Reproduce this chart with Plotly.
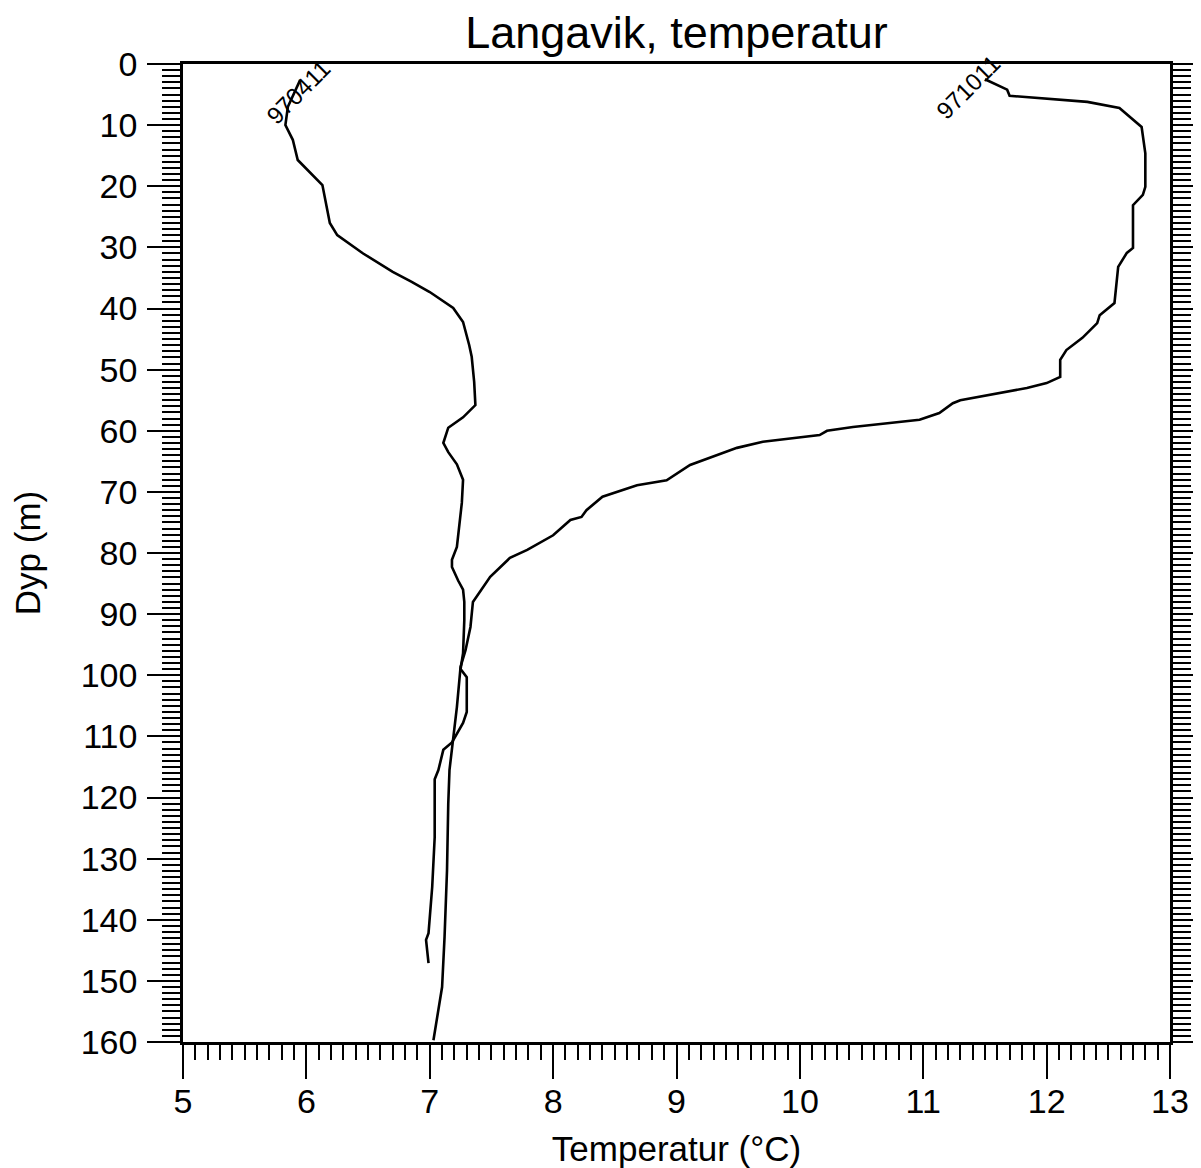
import plotly.graph_objects as go

# Profile 970411
depth_970411 = [2.6, 5.5, 7.0, 10.0, 12.4, 15.7, 19.8, 26.0, 28.0, 31.0, 34.0, 35.6, 37.3,
                39.9, 42.2, 46.0, 47.9, 52.0, 55.8, 57.8, 59.5, 62.0, 63.5, 65.5, 68.0,
                71.8, 75.0, 79.0, 81.1, 82.3, 84.5, 86.0, 88.0, 91.0, 96.4, 99.0, 100.3,
                106.0, 107.8, 111.0, 112.2, 115.5, 117.0, 126.5, 134.6, 142.2, 143.3, 147.1]
temp_970411 = [5.95, 5.88, 5.85, 5.83, 5.89, 5.93, 6.13, 6.19, 6.25, 6.46, 6.70, 6.85, 7.00,
               7.19, 7.27, 7.32, 7.34, 7.36, 7.37, 7.27, 7.15, 7.11, 7.15, 7.22, 7.27,
               7.26, 7.24, 7.22, 7.18, 7.18, 7.23, 7.27, 7.28, 7.28, 7.27, 7.25, 7.30,
               7.30, 7.27, 7.18, 7.11, 7.07, 7.04, 7.04, 7.02, 6.99, 6.97, 6.99]

# Profile 971011
depth_971011 = [2.5, 4.2, 5.2, 6.2, 7.2, 10.3, 14.6, 20.1, 21.4, 23.1, 30.1, 30.9, 33.2,
                39.1, 41.1, 42.4, 44.8, 46.8, 48.4, 51.2, 52.2, 53.0, 55.0, 55.5, 57.1,
                58.2, 59.4, 60.0, 60.7, 61.8, 62.8, 65.6, 68.1, 68.9, 70.8, 73.0, 74.1,
                74.6, 77.1, 79.5, 80.8, 83.9, 88.0, 92.1, 95.9, 98.6, 105.2, 110.0,
                115.5, 121.0, 131.9, 142.8, 151.0, 159.7]
temp_971011 = [11.50, 11.68, 11.70, 12.33, 12.59, 12.77, 12.80, 12.80, 12.78, 12.70, 12.70, 12.65, 12.58,
               12.55, 12.43, 12.41, 12.29, 12.16, 12.11, 12.11, 12.00, 11.84, 11.30, 11.24, 11.13,
               10.97, 10.43, 10.22, 10.16, 9.70, 9.49, 9.11, 8.92, 8.68, 8.40, 8.27, 8.23,
               8.14, 8.00, 7.79, 7.65, 7.49, 7.35, 7.33, 7.29, 7.25, 7.22, 7.19,
               7.16, 7.15, 7.14, 7.12, 7.10, 7.03]

labels = ["970411", "971011"]
label_temp = [5.93, 11.36]
label_depth = [4.6, 3.8]

x_ticks = [5, 6, 7, 8, 9, 10, 11, 12, 13]
y_ticks = list(range(0, 161, 10))

FONT = "Liberation Sans, Arial, Helvetica, sans-serif"
W, H = 1193, 1160

fig = go.Figure()
for t, d, name in [(temp_970411, depth_970411, labels[0]), (temp_971011, depth_971011, labels[1])]:
    fig.add_trace(go.Scatter(x=t, y=d, mode="lines", name=name,
                             line=dict(color="black", width=2.6), showlegend=False))

for name, lt, ld in zip(labels, label_temp, label_depth):
    fig.add_annotation(x=lt, y=ld, text=name, showarrow=False, textangle=-45,
                       font=dict(family=FONT, size=24, color="black"),
                       xanchor="center", yanchor="middle")

fig.update_layout(
    width=W, height=H,
    margin=dict(l=175, r=31, t=56, b=126, autoexpand=False),
    paper_bgcolor="white", plot_bgcolor="white",
    font=dict(family=FONT, color="black"),
    title=dict(text="Langavik, temperatur", x=0.5, xref="paper", xanchor="center",
               y=1 - 24 / H, yref="container", yanchor="middle",
               font=dict(family=FONT, size=45, color="black")),
)

fig.update_xaxes(
    range=[5, 13], tickvals=x_ticks, ticktext=[str(v) for v in x_ticks],
    ticks="outside", ticklen=34, tickwidth=2, tickcolor="black",
    minor=dict(dtick=0.1, tick0=5, ticks="outside", ticklen=15, tickwidth=2, tickcolor="black", showgrid=False),
    showline=True, linewidth=2.5, linecolor="black", mirror=True,
    showgrid=False, zeroline=False, automargin=False,
    ticklabelstandoff=-7,
    tickfont=dict(family=FONT, size=34, color="black"),
    title=dict(text="Temperatur (°C)", font=dict(family=FONT, size=35, color="black"), standoff=18),
)
fig.update_yaxes(
    range=[160, 0], tickvals=y_ticks, ticktext=[str(v) for v in y_ticks],
    ticks="outside", ticklen=33, tickwidth=2, tickcolor="black",
    minor=dict(dtick=1, tick0=0, ticks="outside", ticklen=18, tickwidth=2, tickcolor="black", showgrid=False),
    showline=True, linewidth=2.5, linecolor="black", mirror="ticks",
    showgrid=False, zeroline=False, automargin=False,
    ticklabelstandoff=3,
    tickfont=dict(family=FONT, size=34, color="black"),
    title=dict(text="Dyp (m)", font=dict(family=FONT, size=35, color="black"), standoff=35),
)

fig.write_html("out.html")
